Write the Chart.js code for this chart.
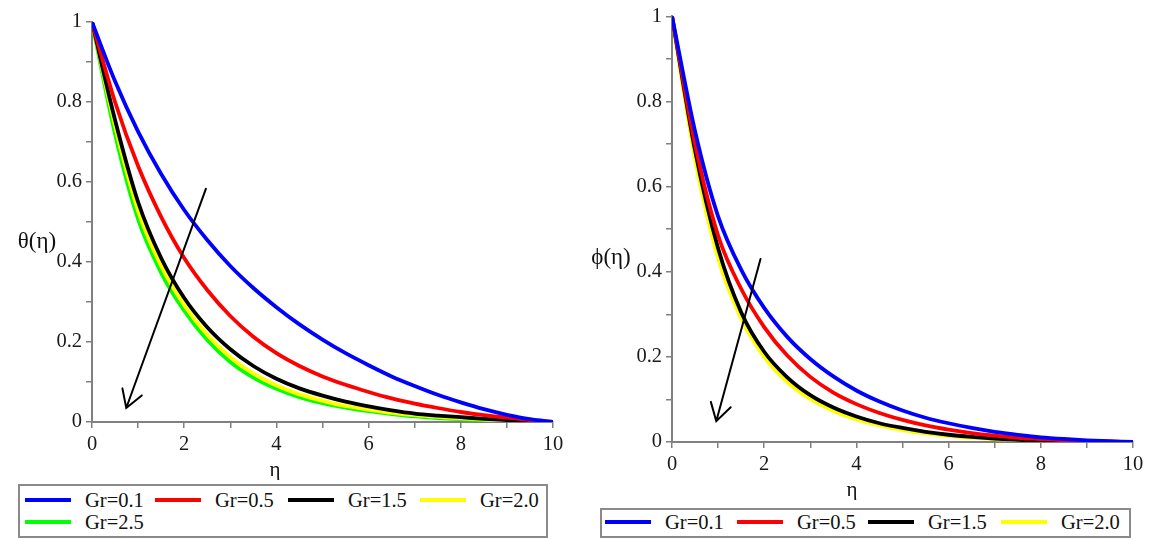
<!DOCTYPE html>
<html>
<head>
<meta charset="utf-8">
<script src="https://cdn.jsdelivr.net/npm/chart.js@4/dist/chart.umd.min.js"></script>
<style>
  body { margin: 0; background: #fff; }
  #wrap { position: relative; width: 1151px; height: 540px; overflow: hidden; }
  .panel { position: absolute; top: 0; }
  .legend { position: absolute; border: 2px solid #8a8a8a; box-sizing: border-box; background: #fff;
            font-family: 'Liberation Serif', 'Times New Roman', serif; font-size: 20.5px; color: #111; }
  .legend .sw { position: absolute; height: 4px; width: 46px; }
  .legend .lb { position: absolute; line-height: 20px; white-space: nowrap; }
</style>
</head>
<body>
<div id="wrap">
  <div class="panel" style="left:0"><canvas id="stage1" width="575" height="480"></canvas></div>
  <div class="panel" style="left:580px"><canvas id="stage2" width="571" height="500"></canvas></div>
  <div class="legend" id="legend1" style="left:18px;top:484px;width:530px;height:54px"></div>
  <div class="legend" id="legend2" style="left:600px;top:508px;width:531px;height:30px"></div>
</div>
<script>
// eta grid shared by both profiles
const eta = [0, 0.5, 1, 1.5, 2, 2.5, 3, 3.5, 4, 4.5, 5, 5.5, 6, 6.5, 7, 7.5, 8, 8.5, 9, 9.5, 10];

// temperature profile theta(eta)
const thetaGr01 = [1, 0.852, 0.726, 0.62, 0.53, 0.455, 0.39, 0.335, 0.287, 0.244, 0.206, 0.172, 0.142, 0.114, 0.09, 0.068, 0.049, 0.032, 0.018, 0.007, 0];
const thetaGr05 = [1, 0.80, 0.64, 0.513, 0.41, 0.33, 0.265, 0.213, 0.172, 0.14, 0.114, 0.093, 0.075, 0.059, 0.046, 0.035, 0.025, 0.017, 0.011, 0.005, 0];
const thetaGr15 = [1, 0.755, 0.55, 0.41, 0.31, 0.237, 0.182, 0.14, 0.108, 0.084, 0.066, 0.051, 0.039, 0.029, 0.021, 0.016, 0.012, 0.008, 0.005, 0.002, 0];
const thetaGr20 = [1, 0.74, 0.528, 0.39, 0.292, 0.218, 0.162, 0.121, 0.091, 0.069, 0.053, 0.04, 0.031, 0.023, 0.017, 0.013, 0.009, 0.006, 0.003, 0.001, 0];
const thetaGr25 = [1, 0.72, 0.507, 0.373, 0.278, 0.205, 0.15, 0.111, 0.083, 0.062, 0.047, 0.036, 0.027, 0.02, 0.014, 0.01, 0.007, 0.004, 0.002, 0.001, 0];

// concentration profile phi(eta)
const phiGr01 = [1, 0.73, 0.53, 0.405, 0.315, 0.247, 0.195, 0.154, 0.121, 0.095, 0.074, 0.057, 0.044, 0.033, 0.024, 0.017, 0.011, 0.007, 0.004, 0.002, 0];
const phiGr05 = [1, 0.70, 0.485, 0.36, 0.27, 0.203, 0.153, 0.116, 0.089, 0.068, 0.052, 0.039, 0.029, 0.021, 0.015, 0.01, 0.007, 0.004, 0.002, 0.001, 0];
const phiGr15 = [1, 0.685, 0.455, 0.305, 0.212, 0.152, 0.11, 0.081, 0.06, 0.044, 0.033, 0.024, 0.017, 0.012, 0.008, 0.005, 0.003, 0.002, 0.001, 0, 0];
const phiGr20 = [1, 0.665, 0.432, 0.29, 0.2, 0.141, 0.101, 0.073, 0.053, 0.039, 0.028, 0.02, 0.014, 0.01, 0.007, 0.004, 0.003, 0.002, 0.001, 0, 0];

const labels1 = ['Gr=0.1', 'Gr=0.5', 'Gr=1.5', 'Gr=2.0', 'Gr=2.5'];
const labels2 = ['Gr=0.1', 'Gr=0.5', 'Gr=1.5', 'Gr=2.0'];
const colors = ['#0000ff', '#ff0000', '#000000', '#ffff00', '#00ff00'];

// arrow showing increasing Gr: [from, to] in (eta, value)
const arrow1 = [[2.47, 0.583], [0.743, 0.035]];
const arrow2 = [[1.92, 0.43], [0.96, 0.049]];

const serif = '"Liberation Serif", "Times New Roman", serif';

function toPoints(ys) {
  return eta.map((x, i) => ({x: x, y: ys[i]}));
}

const annotate = {
  id: 'annotate',
  afterDraw(chart, args, opts) {
    const ctx = chart.ctx;
    const xs = chart.scales.x, ys = chart.scales.y;
    // arrow
    const x0 = xs.getPixelForValue(opts.arrow[0][0]), y0 = ys.getPixelForValue(opts.arrow[0][1]);
    const x1 = xs.getPixelForValue(opts.arrow[1][0]), y1 = ys.getPixelForValue(opts.arrow[1][1]);
    const a = Math.atan2(y0 - y1, x0 - x1);
    const head = 20, spread = 31 * Math.PI / 180;
    ctx.save();
    ctx.strokeStyle = '#000';
    ctx.lineWidth = 2;
    ctx.lineCap = 'round';
    ctx.beginPath();
    ctx.moveTo(x0, y0);
    ctx.lineTo(x1, y1);
    ctx.moveTo(x1 + head * Math.cos(a - spread), y1 + head * Math.sin(a - spread));
    ctx.lineTo(x1, y1);
    ctx.lineTo(x1 + head * Math.cos(a + spread), y1 + head * Math.sin(a + spread));
    ctx.stroke();
    // axis titles
    ctx.fillStyle = '#111';
    ctx.textAlign = 'center';
    ctx.textBaseline = 'middle';
    ctx.font = '23px ' + serif;
    ctx.fillText(opts.yTitle, opts.yTitlePos[0], opts.yTitlePos[1]);
    ctx.font = '21px ' + serif;
    ctx.fillText('η', opts.xTitlePos[0], opts.xTitlePos[1]);
    ctx.restore();
  }
};

function makeChart(canv, series, labels, padTop, padRight, xHeight, annot) {
  return new Chart(canv, {
    type: 'line',
    data: {
      datasets: series.map((s, i) => ({
        label: labels[i],
        data: toPoints(s),
        borderColor: colors[i],
        borderWidth: 3.8,
        pointRadius: 0,
        cubicInterpolationMode: 'monotone',
        fill: false
      }))
    },
    options: {
      responsive: false,
      animation: false,
      events: [],
      layout: { padding: { top: padTop, right: padRight, left: 0, bottom: 0 } },
      plugins: { legend: { display: false }, tooltip: { enabled: false }, annotate: annot },
      scales: {
        x: {
          type: 'linear', min: 0, max: 10,
          afterFit: (s) => { s.height = xHeight; },
          border: { color: '#808080', width: 2 },
          grid: { drawOnChartArea: false, drawTicks: true, tickLength: 6, color: '#808080', lineWidth: 1.5 },
          ticks: {
            stepSize: 1, padding: 4, color: '#1a1a1a', maxRotation: 0, autoSkip: false,
            font: { family: serif, size: 20.5 },
            callback: (v) => (v % 2 === 0 ? String(v) : '')
          }
        },
        y: {
          min: 0, max: 1,
          afterFit: (s) => { s.width = 92; },
          border: { color: '#808080', width: 2 },
          grid: { drawOnChartArea: false, drawTicks: true, tickLength: 6, color: '#808080', lineWidth: 1.5 },
          ticks: {
            stepSize: 0.1, padding: 4, color: '#1a1a1a', autoSkip: false,
            font: { family: serif, size: 20.5 },
            callback: (v) => {
              const r = Math.round(v * 10);
              return r % 2 === 0 ? String(r / 10) : '';
            }
          }
        }
      }
    },
    plugins: [annotate]
  });
}

makeChart(document.getElementById('stage1'),
  [thetaGr01, thetaGr05, thetaGr15, thetaGr20, thetaGr25], labels1, 22, 22, 58,
  { arrow: arrow1, yTitle: 'θ(η)', yTitlePos: [37, 242], xTitlePos: [275, 470] });

makeChart(document.getElementById('stage2'),
  [phiGr01, phiGr05, phiGr15, phiGr20], labels2, 12, 18, 58,
  { arrow: arrow2, yTitle: 'ϕ(η)', yTitlePos: [31, 258], xTitlePos: [272, 490] });

// legend boxes
function buildLegend(el, labels, cols, rows) {
  labels.forEach((txt, i) => {
    const sw = document.createElement('div');
    sw.className = 'sw';
    sw.style.background = colors[i];
    sw.style.left = cols[i % 4] + 'px';
    sw.style.top = (rows[Math.floor(i / 4)] - 2) + 'px';
    el.appendChild(sw);
    const lb = document.createElement('div');
    lb.className = 'lb';
    lb.textContent = txt;
    lb.style.left = (cols[i % 4] + 60) + 'px';
    lb.style.top = (rows[Math.floor(i / 4)] - 10) + 'px';
    el.appendChild(lb);
  });
}
buildLegend(document.getElementById('legend1'), labels1, [5, 135, 268, 400], [14, 36]);
buildLegend(document.getElementById('legend2'), labels2, [3, 135, 266, 399], [12]);
</script>
</body>
</html>
